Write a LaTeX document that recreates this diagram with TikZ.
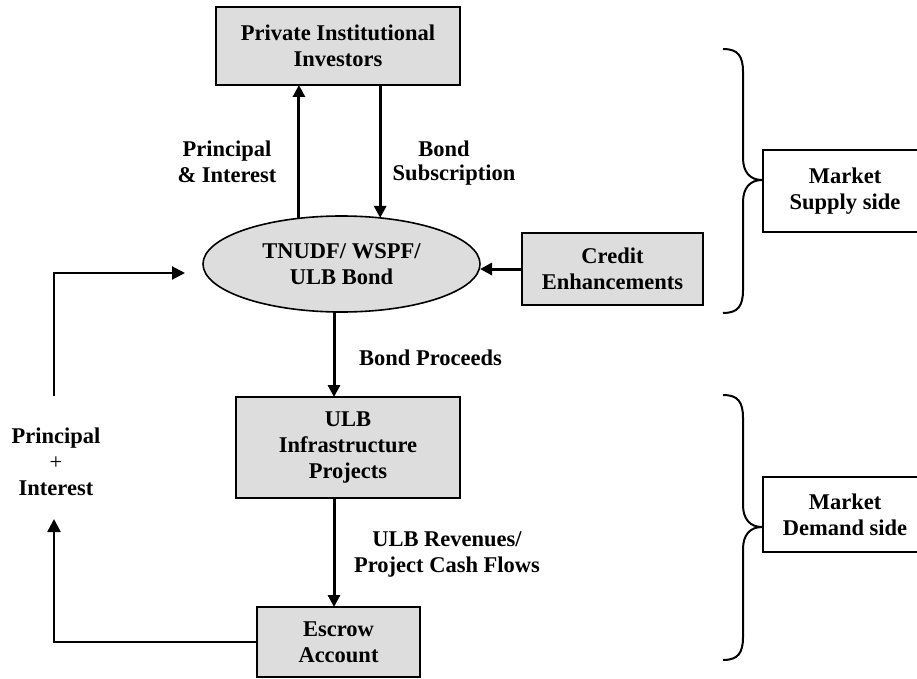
\documentclass[tikz,border=0pt]{standalone}
\usepackage{fontspec}
\setmainfont{Liberation Serif}
\usetikzlibrary{arrows.meta,calc,shapes.geometric}
\definecolor{boxgray}{RGB}{221,221,221}
\begin{document}
\begin{tikzpicture}[x=1pt,y=-1pt,
  every node/.style={font=\fontsize{22.5}{26}\selectfont\bfseries, align=center, inner sep=0pt, outer sep=0pt},
  gbox/.style={draw, line width=2pt, fill=boxgray, rectangle},
  wbox/.style={draw, line width=2pt, fill=white, rectangle},
  gell/.style={draw, line width=1.6pt, fill=boxgray, ellipse},
  arr/.style={line width=3pt, -{Triangle[length=12pt,width=12pt]}},
  farr/.style={line width=2.4pt, -{Triangle[length=13pt,width=13pt]}},
  fline/.style={line width=2pt},
  bracestyle/.style={line width=2pt}
]
\useasboundingbox (0,0) rectangle (917,679);

% nodes
\node[gbox, minimum width=244pt, minimum height=78pt] (inv) at (338,46) {Private Institutional\\Investors};
\node[gell, minimum width=277pt, minimum height=96pt] (bond) at (341.5,264) {TNUDF/ WSPF/\\ULB Bond};
\node[gbox, minimum width=181pt, minimum height=72pt] (credit) at (612.5,269) {Credit\\Enhancements};
\node[gbox, minimum width=224pt, minimum height=101pt] (ulb) at (348,447.5) {ULB\\Infrastructure\\Projects};
\node[gbox, minimum width=163pt, minimum height=70pt] (escrow) at (338.5,642) {Escrow\\Account};
\node[wbox, minimum width=164pt, minimum height=82pt] (supply) at (845,191) {Market\\Supply side};
\node[wbox, minimum width=164pt, minimum height=75pt] (demand) at (845,514.5) {Market\\Demand side};

% labels
\node (lpi) at (227,162) {Principal\\\& Interest};
\node (lbs1) at (444,149) {Bond};
\node (lbs2) at (454,175) {Subscription};
\node (lbp) at (430.5,358) {Bond Proceeds};
\node (lrev) at (447,554.5) {ULB Revenues/\\Project Cash Flows};
\node (lfb) at (56,462) {Principal\\{\mdseries +}\\Interest};

% coordinates
\coordinate (bp) at (334,0);
\coordinate (fb1) at (54,519);
\coordinate (fb2) at (54,396);
\coordinate (fb3) at (185,273);

% connectors
\draw[arr] (bond.133.7) -- (bond.133.7 |- inv.south);
\draw[arr] (inv.south -| bond.50.9) -- (bond.50.9);
\draw[arr] (credit.west) -- (credit.west -| bond.east);
\draw[arr] (bond.south -| bp) -- (ulb.north -| bp);
\draw[arr] (ulb.south -| bp) -- (escrow.north -| bp);
\draw[farr] (escrow.west) -| (fb1);
\draw[fline, -{Triangle[length=13pt,width=13pt]}] (fb2) |- (fb3);

% braces
\draw[bracestyle] (723,49) .. controls (738,49) and (743,56) .. (743,72) -- (743,158)
  .. controls (743,172) and (750,180) .. (762,180)
  .. controls (750,180) and (743,188) .. (743,202) -- (743,290)
  .. controls (743,306) and (738,313) .. (723,313);
\draw[bracestyle] (723,395) .. controls (738,395) and (743,402) .. (743,418) -- (743,505)
  .. controls (743,519) and (750,527) .. (762,527)
  .. controls (750,527) and (743,535) .. (743,549) -- (743,637)
  .. controls (743,653) and (738,660) .. (723,660);
\end{tikzpicture}
\end{document}
